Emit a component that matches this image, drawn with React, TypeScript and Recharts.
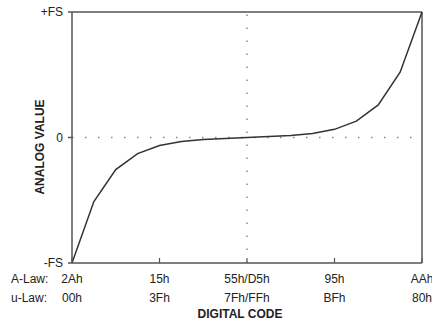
import React from 'react';
import { LineChart, Line, XAxis, YAxis, ReferenceLine } from 'recharts';

// segment end points of the companding curve, 16 segments over the code range
const codePositions = [0, 1, 2, 3, 4, 5, 6, 7, 8, 9, 10, 11, 12, 13, 14, 15, 16];
const analogValues = [
  -1, -0.51, -0.256, -0.128, -0.064, -0.032, -0.016, -0.008, 0,
  0.008, 0.016, 0.032, 0.065, 0.13, 0.26, 0.52, 1,
];

const xTicks = [0, 4, 8, 12, 16];
const aLawTicks = ['2Ah', '15h', '55h/D5h', '95h', 'AAh'];
const uLawTicks = ['00h', '3Fh', '7Fh/FFh', 'BFh', '80h'];

const yTicks = [-1, 0, 1];
const yTickLabels = ['-FS', '0', '+FS'];

const FONT = '"Liberation Sans", Arial, sans-serif';
const AXIS = '#555';
const TEXT = '#222';

const data = codePositions.map((code, i) => ({ code, value: analogValues[i] }));

const CodeTick = (props: any) => {
  const { x, y, index } = props;
  return (
    <g>
      <line x1={x} x2={x} y1={y} y2={y - 5} stroke={AXIS} strokeWidth={1.2} />
      <text x={x} y={y + 20} textAnchor="middle" fontSize={12} fill={TEXT} fontFamily={FONT}>
        {aLawTicks[index]}
      </text>
      <text x={x} y={y + 39} textAnchor="middle" fontSize={12} fill={TEXT} fontFamily={FONT}>
        {uLawTicks[index]}
      </text>
      {index === 0 && (
        <>
          <text x={11} y={y + 20} fontSize={12} fill={TEXT} fontFamily={FONT}>
            A-Law:
          </text>
          <text x={11} y={y + 39} fontSize={12} fill={TEXT} fontFamily={FONT}>
            u-Law:
          </text>
        </>
      )}
    </g>
  );
};

const App: React.FC = () => {
  return (
    <div style={{ position: 'absolute', left: 0, top: 0, background: '#fff' }}>
      <LineChart
        width={432}
        height={322}
        data={data}
        margin={{ top: 12, right: 10, bottom: 0, left: 0 }}
      >
        <XAxis
          dataKey="code"
          type="number"
          domain={[0, 16]}
          ticks={xTicks}
          interval={0}
          height={59}
          stroke={AXIS}
          strokeWidth={1.5}
          tickLine={false}
          tickSize={0}
          tickMargin={0}
          tick={<CodeTick />}
          label={{
            content: () => (
              <text
                x={240}
                y={318}
                textAnchor="middle"
                fontSize={12}
                fontWeight="bold"
                fill={TEXT}
                fontFamily={FONT}
              >
                DIGITAL CODE
              </text>
            ),
          }}
        />
        <YAxis
          type="number"
          domain={[-1, 1]}
          ticks={yTicks}
          width={72}
          stroke={AXIS}
          strokeWidth={1.5}
          tickSize={4}
          tickMargin={5}
          tick={{ fontSize: 12, fill: TEXT, fontFamily: FONT }}
          tickFormatter={(v: number) => yTickLabels[yTicks.indexOf(v)]}
          label={{
            content: () => (
              <text
                x={44}
                y={147}
                transform="rotate(-90, 44, 147)"
                textAnchor="middle"
                fontSize={12}
                fontWeight="bold"
                fill={TEXT}
                fontFamily={FONT}
              >
                ANALOG VALUE
              </text>
            ),
          }}
        />
        <ReferenceLine y={0} stroke="#888" strokeWidth={1.5} strokeDasharray="1.5 11.5" />
        <ReferenceLine x={8} stroke="#888" strokeWidth={1.5} strokeDasharray="1.5 11.5" />
        <ReferenceLine y={1} stroke={AXIS} strokeWidth={1.5} />
        <ReferenceLine x={16} stroke={AXIS} strokeWidth={1.5} />
        <Line
          type="linear"
          dataKey="value"
          stroke="#333"
          strokeWidth={1.5}
          dot={false}
          isAnimationActive={false}
        />
      </LineChart>
    </div>
  );
};

export default App;
